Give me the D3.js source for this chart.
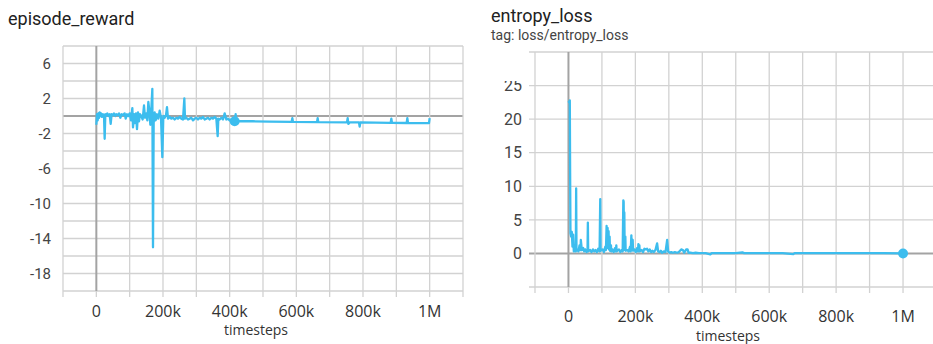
<!DOCTYPE html>
<html>
<head>
<meta charset="utf-8">
<script src="https://cdn.jsdelivr.net/npm/d3@7"></script>
<style>
  html, body { margin: 0; padding: 0; background: #fff; }
  svg { display: block; }
</style>
</head>
<body>
<svg id="chart" width="933" height="344"></svg>
<script>
// episode_reward: training steps (thousands) and reward values
const rewardSteps = [0,2,4,6,8,10,12,14,17,20,23,25,27,30,33,36,40,43,46,50,53,57,60,64,68,72,76,80,85,88,92,96,100,104,108,110,113,116,119,122,125,128,131,135,139,143,146,150,153,156,159,162,165,168,170,172,175,178,182,186,190,194,198,201,205,209,212,215,220,225,230,235,240,245,250,255,260,264,266,270,275,280,285,290,295,300,305,310,315,320,325,330,335,340,345,350,355,360,364,366,370,375,380,385,390,395,400,405,410,415,418,420,470,520,586,588,590,662,664,666,752,754,756,760,788,790,792,883,885,887,931,933,935,998,1000];
const rewardValues = [-1.0,0.2,-0.5,0.3,-0.2,0.4,0.0,0.3,-0.1,0.2,0.1,-2.6,0.2,0.1,0.3,0.0,0.2,-0.9,0.2,0.1,0.3,0.0,0.2,0.1,0.3,-0.2,0.2,0.1,0.3,-0.3,0.2,0.0,0.3,-0.5,0.9,-1.3,0.2,-0.8,0.3,-1.5,0.4,-0.6,0.2,0.0,-0.4,1.2,-0.2,0.3,-0.5,1.6,0.6,-1.0,0.8,3.1,-15.0,-0.8,0.4,-0.5,0.2,-0.3,0.6,-0.2,-4.7,0.0,-0.2,0.1,1.0,-0.3,-0.1,-0.3,-0.2,-0.4,-0.2,-0.3,-0.1,-0.3,-0.4,2.0,-0.3,-0.2,-0.4,-0.3,-0.2,-0.5,-0.3,-0.2,-0.4,-0.2,-0.3,-0.1,-0.4,-0.3,-0.2,-0.4,-0.2,-0.3,-0.1,-0.3,-2.3,-0.3,-0.4,-0.2,-0.4,0.3,-0.4,-0.3,-0.5,-0.4,-0.6,-0.5,0.2,-0.6,-0.6,-0.65,-0.67,-0.25,-0.68,-0.7,-0.25,-0.7,-0.72,-0.25,-0.9,-0.73,-0.74,-1.2,-0.74,-0.78,-0.3,-0.78,-0.8,-0.25,-0.8,-0.82,-0.25];
const rewardMarker = { step: 415, value: -0.6 };

// entropy_loss: training steps (thousands) and loss values
const entropySteps = [0,2,4,5,6,8,10,12,14,16,19,22,23,24,27,30,33,36,37,38,40,44,47,50,54,57,58,59,65,69,73,77,81,85,89,93,95,96,102,106,110,112,114,115,117,118,120,121,123,124,127,128,131,135,139,142,143,144,151,155,159,162,164,165,166,167,168,170,171,176,180,184,186,188,189,192,193,197,201,205,208,209,210,212,213,219,223,227,231,235,239,243,247,251,255,260,265,268,272,276,280,285,290,295,298,302,307,312,318,325,330,337,342,346,352,356,359,365,372,380,390,400,410,424,428,440,460,480,500,520,525,560,600,640,672,676,720,800,880,940,1000];
const entropyValues = [22.7,22.5,22.8,12.0,3.0,2.5,3.2,1.0,2.8,0.3,0.6,0.3,9.7,0.4,0.6,0.3,1.2,0.5,2.0,1.5,0.5,0.8,0.3,0.6,0.2,0.4,4.6,0.3,0.5,0.2,0.6,0.3,0.5,0.2,0.7,0.3,8.1,0.4,0.6,0.2,1.0,0.5,4.1,1.0,3.8,0.8,3.3,0.6,2.5,0.4,1.2,0.3,0.6,0.2,0.8,0.3,1.2,0.3,0.6,0.2,0.5,0.3,7.9,7.7,0.5,6.1,0.6,2.5,0.4,0.5,0.3,1.0,0.3,2.7,0.5,2.0,0.4,0.6,0.2,0.8,0.3,1.4,0.5,1.2,0.3,0.5,0.2,0.7,0.6,0.7,0.3,0.6,0.2,0.4,0.2,0.5,1.5,0.3,0.2,0.4,0.1,0.3,0.2,2.0,0.3,0.1,0.2,0.1,0.2,0.1,0.2,0.6,0.5,0.1,0.6,0.6,0.1,0.1,0.05,0.1,0.05,0.05,0.05,-0.15,0.05,0.05,0.05,0.05,0.05,0.15,0.05,0.05,0.05,0.05,-0.1,0.05,0.05,0.05,0.05,0.05,0.0];
const entropyMarker = { step: 1000, value: 0.0 };

// tick values
const xLabelTicks = [0, 200000, 400000, 600000, 800000, 1000000];
const xGridTicks = [-100000, 0, 100000, 200000, 300000, 400000, 500000, 600000, 700000, 800000, 900000, 1000000, 1100000];
const rewardLabelTicks = [6, 2, -2, -6, -10, -14, -18];
const rewardGridTicks = [8, 6, 4, 2, 0, -2, -4, -6, -8, -10, -12, -14, -16, -18, -20];
const entropyLabelTicks = [0, 5, 10, 15, 20, 25];
const entropyGridTicks = [-5, 0, 5, 10, 15, 20, 25, 30];

const LINE = "#3cbdee";
const GRID = "#d2d2d2";
const ZERO = "#a3a3a3";
const svg = d3.select("#chart");
const fmtX = d3.format("~s");

function drawPanel(cfg) {
  const g = svg.append("g");
  const x = d3.scaleLinear().domain([-100000, 1100000]).range(cfg.xRange);
  const y = d3.scaleLinear().domain(cfg.yDomain).range(cfg.yRange);
  const [x0, x1] = cfg.plotX;
  const [yb, yt] = cfg.yRange;

  // grid
  g.append("g").selectAll("line").data(cfg.yGrid).join("line")
    .attr("x1", x0).attr("x2", x1)
    .attr("y1", d => y(d)).attr("y2", d => y(d))
    .attr("stroke", d => d === 0 ? ZERO : GRID)
    .attr("stroke-width", d => d === 0 ? 2 : 1.3);
  g.append("g").selectAll("line").data(xGridTicks).join("line")
    .attr("x1", d => x(d)).attr("x2", d => x(d))
    .attr("y1", yt).attr("y2", yb)
    .attr("stroke", d => d === 0 ? ZERO : GRID)
    .attr("stroke-width", d => d === 0 ? 2 : 1.3);
  // small tick marks under the plot
  g.append("g").selectAll("line").data(xGridTicks).join("line")
    .attr("x1", d => x(d)).attr("x2", d => x(d))
    .attr("y1", yb).attr("y2", yb + 6)
    .attr("stroke", GRID).attr("stroke-width", 1.3);

  // series
  const clipId = cfg.id + "-clip";
  svg.append("clipPath").attr("id", clipId)
    .append("rect").attr("x", x0).attr("y", yt).attr("width", x1 - x0).attr("height", yb - yt);
  const data = cfg.steps.map((s, i) => [s * 1000, cfg.values[i]]);
  g.append("path")
    .datum(data)
    .attr("clip-path", `url(#${clipId})`)
    .attr("fill", "none")
    .attr("stroke", LINE)
    .attr("stroke-width", 2.3)
    .attr("stroke-linejoin", "round")
    .attr("d", d3.line().x(d => x(d[0])).y(d => y(d[1])));
  g.append("circle")
    .attr("cx", x(cfg.marker.step * 1000)).attr("cy", y(cfg.marker.value))
    .attr("r", 5).attr("fill", LINE);

  // y labels
  const yl = g.append("g");
  if (cfg.labelClipTop != null) {
    const lc = cfg.id + "-lclip";
    svg.append("clipPath").attr("id", lc)
      .append("rect").attr("x", x0 - 60).attr("y", cfg.labelClipTop).attr("width", 60).attr("height", 400);
    yl.attr("clip-path", `url(#${lc})`);
  }
  yl.selectAll("text").data(cfg.yLabels).join("text")
    .attr("x", cfg.yLabelX).attr("y", d => y(d))
    .attr("dy", "0.36em")
    .attr("text-anchor", "end")
    .attr("font-family", "Roboto, sans-serif")
    .attr("font-size", cfg.yFont)
    .attr("fill", "#444")
    .text(d => d);

  // x labels
  g.append("g").selectAll("text").data(xLabelTicks).join("text")
    .attr("x", d => x(d)).attr("y", cfg.xLabelY)
    .attr("text-anchor", "middle")
    .attr("font-family", "'Open Sans', sans-serif")
    .attr("font-size", 16)
    .attr("fill", "#333")
    .text(d => fmtX(d));

  g.append("text")
    .attr("x", cfg.axisTitleX).attr("y", cfg.axisTitleY)
    .attr("text-anchor", "middle")
    .attr("font-family", "'Open Sans', sans-serif")
    .attr("font-size", 14)
    .attr("fill", "#333")
    .text("timesteps");
}

// titles
svg.append("text").attr("x", 8).attr("y", 25)
  .attr("font-family", "Roboto, sans-serif").attr("font-size", 18).attr("fill", "#212121")
  .text("episode_reward");
svg.append("text").attr("x", 491).attr("y", 22)
  .attr("font-family", "Roboto, sans-serif").attr("font-size", 18).attr("fill", "#212121")
  .text("entropy_loss");
svg.append("text").attr("x", 491).attr("y", 40)
  .attr("font-family", "Roboto, sans-serif").attr("font-size", 14).attr("fill", "#444")
  .text("tag: loss/entropy_loss");

drawPanel({
  id: "reward",
  xRange: [63, 463], plotX: [63, 463],
  yDomain: [-20, 8], yRange: [291, 46],
  yGrid: rewardGridTicks, yLabels: rewardLabelTicks,
  yLabelX: 51, yFont: 15,
  steps: rewardSteps, values: rewardValues, marker: rewardMarker,
  xLabelY: 317, axisTitleX: 256, axisTitleY: 335
});

drawPanel({
  id: "entropy",
  xRange: [535, 936.5], plotX: [529, 933],
  yDomain: [-5, 30], yRange: [287, 52],
  yGrid: entropyGridTicks, yLabels: entropyLabelTicks,
  yLabelX: 522, yFont: 16, labelClipTop: 81,
  steps: entropySteps, values: entropyValues, marker: entropyMarker,
  xLabelY: 322, axisTitleX: 728, axisTitleY: 341
});
</script>
</body>
</html>
